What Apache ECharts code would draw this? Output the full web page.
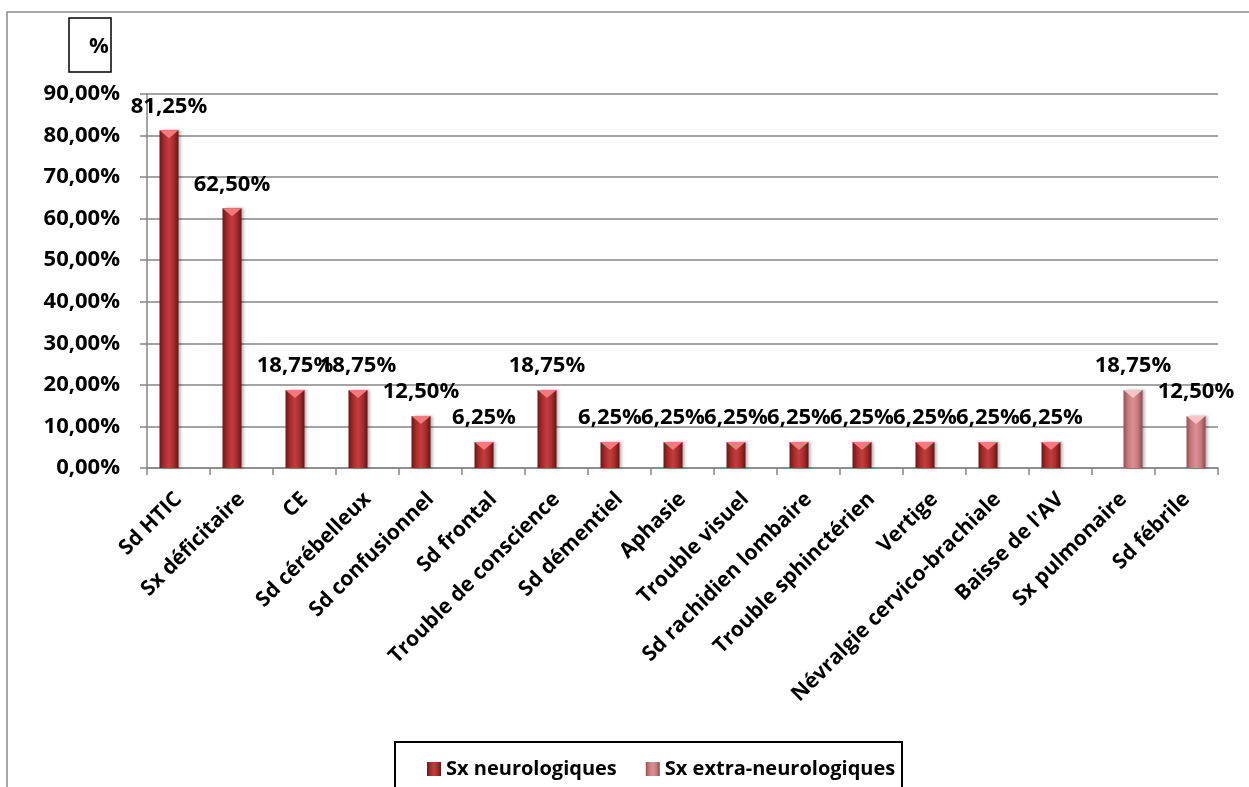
<!DOCTYPE html>
<html>
<head>
<meta charset="utf-8">
<script src="https://cdn.jsdelivr.net/npm/echarts@6/dist/echarts.min.js"></script>
<style>
html,body{margin:0;padding:0;background:#fff;}
#chart{width:1249px;height:787px;}
</style>
</head>
<body>
<div id="chart"></div>
<script>
var categories = ["Sd HTIC","Sx déficitaire","CE","Sd cérébelleux","Sd confusionnel","Sd frontal","Trouble de conscience","Sd démentiel","Aphasie","Trouble visuel","Sd rachidien lombaire","Trouble sphinctérien","Vertige","Névralgie cervico-brachiale","Baisse de l'AV","Sx pulmonaire","Sd fébrile"];
var neuroValues = [81.25,62.5,18.75,18.75,12.5,6.25,18.75,6.25,6.25,6.25,6.25,6.25,6.25,6.25,6.25,null,null];
var extraValues = [null,null,null,null,null,null,null,null,null,null,null,null,null,null,null,18.75,12.5];
var seriesNames = ["Sx neurologiques","Sx extra-neurologiques"];
var yTicks = [0,10,20,30,40,50,60,70,80,90];

var FONT = '"Open Sans", sans-serif';
var FS = 22;
var FS_CAT = 21;
var FS_LEG = 20;
function pct(v){ return Number(v).toFixed(2).replace('.', ',') + '%'; }

var neuroColor = new echarts.graphic.LinearGradient(0,0,1,0,[
  {offset:0,color:'#6e1616'},{offset:0.25,color:'#a82c2c'},{offset:0.5,color:'#c43d3e'},{offset:0.75,color:'#a82c2c'},{offset:1,color:'#661414'}]);
var extraColor = new echarts.graphic.LinearGradient(0,0,1,0,[
  {offset:0,color:'#955052'},{offset:0.25,color:'#c97b7e'},{offset:0.5,color:'#da9194'},{offset:0.75,color:'#c97b7e'},{offset:1,color:'#8c4a4c'}]);

var labelStyle = {show:true, position:'top', distance:13, color:'#000', fontFamily:FONT, fontWeight:'bold', fontSize:FS,
  formatter:function(p){ return pct(p.value); }};

var chart = echarts.init(document.getElementById('chart'), null, {renderer:'canvas'});
chart.setOption({
  animation:false,
  backgroundColor:'#fff',
  grid:{left:147, right:31, top:94, bottom:319, containLabel:false},
  legend:{
    data:seriesNames, left:422, top:754, itemWidth:14, itemHeight:14, itemGap:29, itemTextGap:5,
    icon:'rect', textStyle:{fontFamily:FONT, fontWeight:'bold', fontSize:FS_LEG, color:'#000'}
  },
  xAxis:{
    type:'category', data:categories,
    axisLine:{lineStyle:{color:'#868686', width:1.5}},
    axisTick:{show:true, length:7, lineStyle:{color:'#868686', width:1.5}},
    axisLabel:{interval:0, rotate:45, margin:28, color:'#000', fontFamily:FONT, fontWeight:'bold', fontSize:FS_CAT}
  },
  yAxis:{
    type:'value', min:0, max:90, interval:10,
    axisLine:{show:true, lineStyle:{color:'#868686', width:1.5}},
    axisTick:{show:true, length:7, lineStyle:{color:'#868686', width:1.5}},
    splitLine:{lineStyle:{color:'#868686', width:1.5}},
    axisLabel:{margin:27, color:'#000', fontFamily:FONT, fontWeight:'bold', fontSize:FS,
      formatter:function(v){ return pct(v); }}
  },
  series:[
    {name:seriesNames[0], type:'bar', data:neuroValues, barWidth:19, barGap:'0%',
      itemStyle:{color:neuroColor, shadowColor:'rgba(0,0,0,0.3)', shadowBlur:3, shadowOffsetX:2},
      label:labelStyle},
    {name:seriesNames[1], type:'bar', data:extraValues, barWidth:19, barGap:'0%',
      itemStyle:{color:extraColor, shadowColor:'rgba(0,0,0,0.3)', shadowBlur:3, shadowOffsetX:2},
      label:labelStyle},
    {name:'capN', type:'pictorialBar', data:neuroValues, barWidth:19, barGap:'0%', symbol:'triangle', symbolRotate:180,
      symbolSize:[19,8], symbolPosition:'end', symbolOffset:[0,0], z:5, itemStyle:{color:'#f27a7a'}, silent:true},
    {name:'capE', type:'pictorialBar', data:extraValues, barWidth:19, barGap:'0%', symbol:'triangle', symbolRotate:180,
      symbolSize:[19,8], symbolPosition:'end', symbolOffset:[0,0], z:5, itemStyle:{color:'#f7c3c3'}, silent:true}
  ],
  graphic:[
    {type:'rect', shape:{x:7, y:12, width:1260, height:800}, style:{fill:'none', stroke:'#8c8c8c', lineWidth:1.5}, z:-1},
    {type:'rect', shape:{x:69, y:18, width:42, height:54}, style:{fill:'none', stroke:'#000', lineWidth:1.5}},
    {type:'text', x:99, y:47, style:{text:'%', fontFamily:FONT, fontWeight:'bold', fontSize:FS, fill:'#000', align:'center', verticalAlign:'middle'}},
    {type:'rect', shape:{x:395, y:742, width:507, height:60}, style:{fill:'none', stroke:'#000', lineWidth:2}}
  ]
});
</script>
</body>
</html>
